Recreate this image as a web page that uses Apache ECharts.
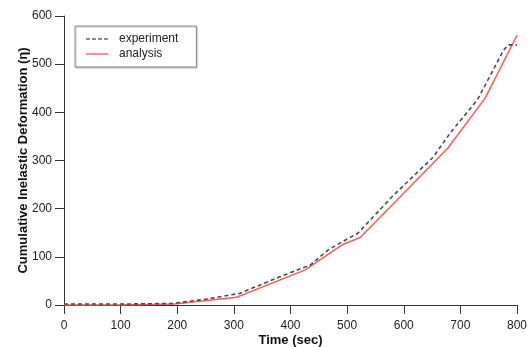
<!DOCTYPE html>
<html><head><meta charset="utf-8">
<script src="https://cdn.jsdelivr.net/npm/echarts@6/dist/echarts.min.js"></script>
<style>html,body{margin:0;padding:0;background:#fff}#c{width:531px;height:347px}</style>
</head><body><div id="c"></div>
<script>
var xTicks = [0,100,200,300,400,500,600,700,800];
var yTicks = [0,100,200,300,400,500,600];
var expTime  = [0,100,190,250,310,380,435,466,491,519,582,652,682,730,758,776,785,800];
var expValue = [2,2,3,12,24,58,83,114,131,149,228,307,357,426,488,529,540,540];
var anaTime  = [0,100,195,305,426,491,523,590,678,744,800];
var anaValue = [0,0,2,16,73,125,140,220,326,430,560];

function pairs(t,v){return t.map(function(x,i){return [x,v[i]];});}
var font = 'Liberation Sans';
var dashIcon = 'path://M0,0h4v1.6h-4z M6,0h4v1.6h-4z M12,0h4v1.6h-4z M18,0h4v1.6h-4z';
var solidIcon = 'path://M0,0h22v1.6h-22z';
var chart = echarts.init(document.getElementById('c'));
chart.setOption({
  animation:false,
  backgroundColor:'#fff',
  grid:{left:64,right:14,top:16,bottom:42,containLabel:false,outerBoundsMode:'none'},
  legend:{
    orient:'vertical', left:75, top:26,
    padding:[6,18,6,11], itemGap:1, itemWidth:22, itemHeight:2,
    borderColor:'#888', borderWidth:1, backgroundColor:'#fff',
    shadowColor:'rgba(0,0,0,0.25)', shadowOffsetX:1, shadowOffsetY:1, shadowBlur:1,
    textStyle:{fontFamily:font,fontSize:12,color:'#222',padding:[0,0,0,6],lineHeight:14},
    data:[{name:'experiment',icon:dashIcon,itemStyle:{color:'#666'}},
          {name:'analysis',icon:solidIcon,itemStyle:{color:'#ff7070'}}]
  },
  xAxis:{
    type:'value', min:0, max:800, interval:100,
    name:'Time (sec)', nameLocation:'middle', nameGap:29, nameMoveOverlap:false,
    nameTextStyle:{fontFamily:font,fontSize:13,fontWeight:'bold',color:'#111'},
    axisLine:{onZero:false,lineStyle:{color:'#333',width:1}},
    axisTick:{show:true,length:9,lineStyle:{color:'#333'}},
    axisLabel:{fontFamily:font,fontSize:12,color:'#222',margin:15,
      formatter:function(v){return xTicks.indexOf(v)>=0?String(v):'';}},
    splitLine:{show:false}
  },
  yAxis:{
    type:'value', min:0, max:600, interval:100,
    name:'Cumulative Inelastic Deformation (η)', nameLocation:'middle', nameGap:34, nameMoveOverlap:false,
    nameTextStyle:{fontFamily:font,fontSize:13,fontWeight:'bold',color:'#111'},
    axisLine:{show:true,onZero:false,lineStyle:{color:'#333',width:1}},
    axisTick:{show:true,length:9,lineStyle:{color:'#333'}},
    axisLabel:{fontFamily:font,fontSize:12,color:'#222',margin:12,
      formatter:function(v){return yTicks.indexOf(v)>=0?String(v):'';}},
    splitLine:{show:false}
  },
  series:[
    {name:'experiment',type:'line',data:pairs(expTime,expValue),showSymbol:false,symbol:'none',
     lineStyle:{color:'#4a4a4a',width:1.6,type:[4,3]},itemStyle:{color:'#4a4a4a'},z:3},
    {name:'analysis',type:'line',data:pairs(anaTime,anaValue),showSymbol:false,symbol:'none',
     lineStyle:{color:'#ff5a5a',width:1.5},itemStyle:{color:'#ff5a5a'},z:2}
  ]
});
</script></body></html>
